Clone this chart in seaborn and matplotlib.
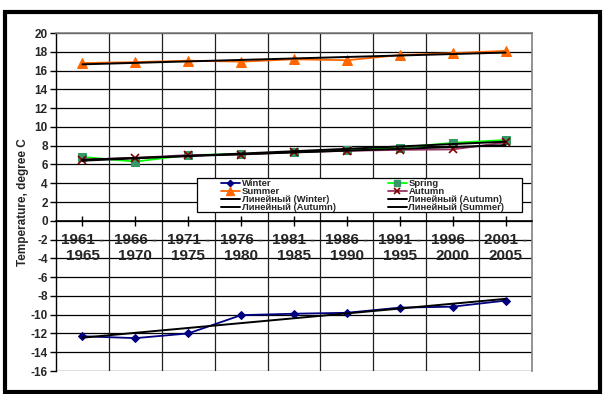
import numpy as np
import pandas as pd
import matplotlib
matplotlib.use("Agg")
import matplotlib.pyplot as plt
from matplotlib.patches import Rectangle
from matplotlib.lines import Line2D
import seaborn as sns

periods = ["1961 -\n1965", "1966 -\n1970", "1971 -\n1975", "1976 -\n1980",
           "1981 -\n1985", "1986 -\n1990", "1991 -\n1995", "1996 -\n2000",
           "2001 -\n2005"]
winter = [-12.3, -12.5, -12.0, -10.05, -9.9, -9.8, -9.25, -9.15, -8.5]
spring = [6.8, 6.3, 7.0, 7.1, 7.3, 7.5, 7.8, 8.3, 8.6]
summer = [16.8, 16.9, 17.05, 16.95, 17.2, 17.1, 17.65, 17.85, 18.1]
autumn = [6.5, 6.7, 7.0, 7.05, 7.3, 7.45, 7.55, 7.6, 8.35]
y_ticks = list(range(-16, 21, 2))

sns.set_theme(style="white")
plt.rcParams["font.family"] = ["Liberation Sans", "DejaVu Sans"]
plt.rcParams["font.weight"] = "bold"

W, H = 605, 394
fig = plt.figure(figsize=(W / 100, H / 100), dpi=100)
ax = fig.add_axes([56 / W, 1 - 371 / H, (532 - 56) / W, (371 - 33) / H])

x = np.arange(len(periods))
df = pd.DataFrame({"x": x, "Winter": winter, "Spring": spring,
                   "Summer": summer, "Autumn": autumn})

# grid: horizontal at every tick, vertical at category boundaries
for yv in y_ticks:
    ax.axhline(yv, color="black", lw=0.9, zorder=0)
for k in range(1, len(periods)):
    ax.axvline(k - 0.5, color="#202020", lw=0.9, zorder=0)

styles = {
    "Winter": dict(color="#000080", marker="D", markersize=4,
                   markerfacecolor="#000080", markeredgecolor="#000080"),
    "Spring": dict(color="#00FF00", marker="s", markersize=6,
                   markerfacecolor="#339966", markeredgecolor="#339966"),
    "Summer": dict(color="#FF6600", marker="^", markersize=6.5,
                   markerfacecolor="#FF6600", markeredgecolor="#FF6600"),
    "Autumn": dict(color="#993366", marker="x", markersize=6,
                   markeredgecolor="#800000", markeredgewidth=1.2),
}
for name in ["Winter", "Spring", "Summer", "Autumn"]:
    sns.lineplot(data=df, x="x", y=name, ax=ax, lw=1.3, zorder=3,
                 legend=False, **styles[name])

# linear trend lines
for name in ["Winter", "Spring", "Summer", "Autumn"]:
    k, b = np.polyfit(x, df[name].values, 1)
    sns.lineplot(x=x, y=k * x + b, ax=ax, color="black", lw=1.4,
                 zorder=4, legend=False)

ax.set_xlim(-0.5, len(periods) - 0.5)
ax.set_ylim(-16, 20)
ax.set_yticks(y_ticks)
ax.set_yticklabels([str(v) for v in y_ticks], fontsize=8.5, fontweight="bold")
ax.set_xticks(x)
ax.set_xticklabels(periods, fontsize=8.5, fontweight="bold", linespacing=1.35)
ax.set_xlabel("")
ax.set_ylabel("Temperature, degree C", fontsize=8.5, fontweight="bold",
              labelpad=1)

ax.spines["bottom"].set_position(("data", 0))
ax.spines["bottom"].set_color("black")
ax.spines["bottom"].set_linewidth(1.2)
ax.spines["bottom"].set_zorder(5)
ax.spines["left"].set_color("black")
ax.spines["left"].set_linewidth(1.0)
for s in ["top", "right"]:
    ax.spines[s].set_color("#808080")
    ax.spines[s].set_linewidth(1.2)
ax.tick_params(axis="x", direction="inout", length=7, width=1.0,
               color="black", pad=5, bottom=True)
ax.tick_params(axis="y", direction="out", length=4, width=1.0,
               color="black", pad=2, left=True)

# legend box
ax.add_patch(Rectangle((197 / W, 1 - 212 / H), (522 - 197) / W, (212 - 178) / H,
                       transform=fig.transFigure, facecolor="white",
                       edgecolor="black", lw=0.9, zorder=9))

handles = [
    Line2D([], [], **styles["Winter"], lw=1.3),
    Line2D([], [], **styles["Summer"], lw=1.3),
    Line2D([], [], color="black", lw=1.4),
    Line2D([], [], color="black", lw=1.4),
    Line2D([], [], **styles["Spring"], lw=1.3),
    Line2D([], [], **styles["Autumn"], lw=1.3),
    Line2D([], [], color="black", lw=1.4),
    Line2D([], [], color="black", lw=1.4),
]
labels = ["Winter", "Summer", "Линейный (Winter)", "Линейный (Autumn)",
          "Spring", "Autumn", "Линейный (Autumn)", "Линейный (Summer)"]
leg = ax.legend(handles, labels, ncol=2, loc="upper left",
                bbox_to_anchor=(221 / W, 1 - 179.5 / H),
                bbox_transform=fig.transFigure,
                prop={"size": 6.8, "weight": "bold"}, frameon=False,
                borderpad=0, labelspacing=-0.12, handlelength=2.0,
                handletextpad=0.2, columnspacing=5.5, borderaxespad=0,
                markerscale=0.8)
leg.set_zorder(10)

# outer chart border
fig.patches.append(Rectangle((5 / W, 1 - 392 / H), 595 / W, 380 / H,
                             transform=fig.transFigure, fill=False,
                             edgecolor="black", lw=3))

fig.savefig("out.png", dpi=100)
